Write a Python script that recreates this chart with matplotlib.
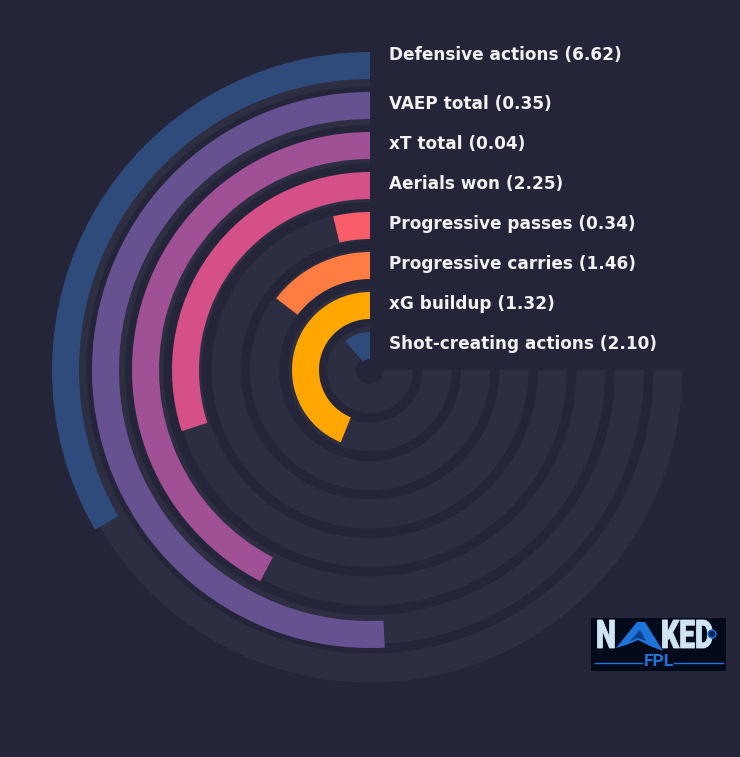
import numpy as np
import matplotlib
matplotlib.use("Agg")
import matplotlib.pyplot as plt
from matplotlib.lines import Line2D
from matplotlib.textpath import TextPath
from matplotlib.patches import PathPatch, Polygon, Circle
from matplotlib.font_manager import FontProperties
from matplotlib.transforms import Affine2D

# data, inner ring first
metrics = ["Shot-creating actions", "xG buildup", "Progressive carries",
           "Progressive passes", "Aerials won", "xT total", "VAEP total",
           "Defensive actions"]
values = [2.10, 1.32, 1.46, 0.34, 2.25, 0.04, 0.35, 6.62]
percentiles = [15, 58.5, 19.5, 5, 40, 56.5, 67.8, 44.5]

palette = ["#2f4b7c", "#665191", "#a05195", "#d45087", "#f95d6a", "#ff7c43", "#ffa600"]
BG = "#25253a"
TRACK = "#2e2e43"

W, H = 740, 757
fig = plt.figure(figsize=(W / 100, H / 100), dpi=100, facecolor=BG)

cx, cy, R = 370, 370, 330
ax = fig.add_axes([(cx - R) / W, (H - cy - R) / H, 2 * R / W, 2 * R / H], projection="polar")
ax.set_facecolor(BG)
ax.set_theta_zero_location("N")
ax.set_theta_direction(1)
ax.set_ylim(0, R)
ax.grid(False)
ax.set_xticks([])
ax.set_yticks([])
ax.spines["polar"].set_visible(False)

full = 1.5 * np.pi
n = len(metrics)
# background tracks
for i in range(n):
    ax.bar(0, 29, width=full, bottom=14 + 38.5 * i, align="edge", color=TRACK, zorder=1)

# coloured bars
for i in range(n):
    col = palette[(n - 1 - i) % len(palette)]
    ang = percentiles[i] / 100 * full
    ax.bar(0, 27, width=ang, bottom=11 + 40 * i, align="edge", color=col, zorder=2)
    nudge = 10 if i == n - 1 else 1.5
    ax.annotate(f"{metrics[i]} ({values[i]:.2f})", xy=(0, 11 + 40 * i + 13.5),
                xytext=(19, nudge), textcoords="offset pixels",
                ha="left", va="center", color="#f2f2f2", fontsize=12.2,
                fontweight="bold", zorder=3, annotation_clip=False)

# logo (pixel coords, y down)
lx0, ly0, lx1, ly1 = 591, 618, 726, 671
logo = fig.add_axes([lx0 / W, (H - ly1) / H, (lx1 - lx0) / W, (ly1 - ly0) / H])
logo.set_facecolor("#030a1a")
logo.set_xlim(lx0, lx1)
logo.set_ylim(ly1, ly0)
logo.set_xticks([])
logo.set_yticks([])
for s in logo.spines.values():
    s.set_visible(False)

light = "#cfe5f6"
blue = "#1f74db"
fp = FontProperties(family="Roboto", weight="heavy")

def letters(txt, x, base, size=39.4, sx=0.72):
    tp = TextPath((0, 0), txt, size=size, prop=fp)
    tr = Affine2D().scale(sx, -1).translate(x, base) + logo.transData
    logo.add_patch(PathPatch(tp, fc=light, ec=light, lw=0.6, transform=tr))

letters("N", 596, 648)
letters("KED", 661, 648)
logo.add_patch(Polygon([(616, 648), (637, 622), (645, 622), (663, 651),
                        (650, 646), (638, 640), (626, 645)], closed=True,
                       color=blue, lw=0))
logo.add_patch(Polygon([(630, 641), (640, 630), (646, 641), (638, 638)],
                       closed=True, color="#0b3f8a", lw=0))
logo.add_patch(Circle((712, 634), 4, fc="#0b2a55", ec=blue, lw=1))
logo.text(658.5, 662, "FPL", color=blue, fontsize=12.5, fontweight="bold",
          family="Roboto", ha="center", va="center")
for xa, xb in [(595, 642), (674, 723)]:
    logo.add_line(Line2D([xa, xb], [663, 663], color=blue, lw=1))

fig.savefig("out.png", dpi=100, facecolor=BG)
